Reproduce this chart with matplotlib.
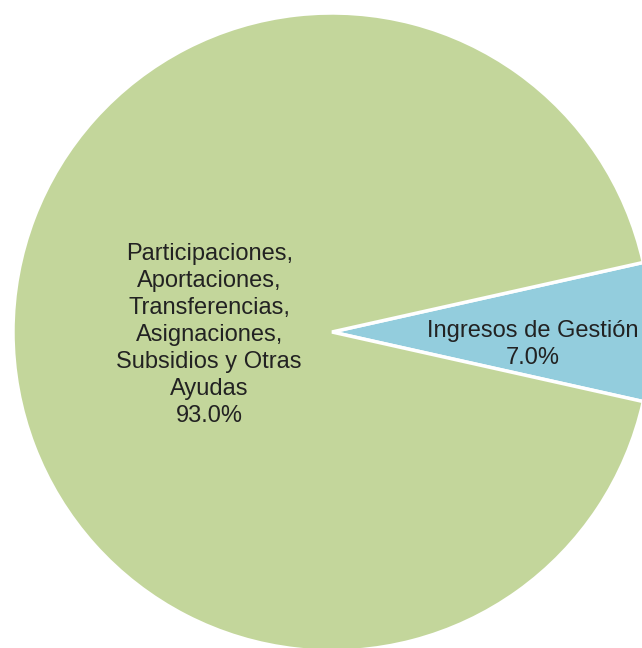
import matplotlib
matplotlib.use("Agg")
import matplotlib.pyplot as plt

# data
labels = ["Ingresos de Gestión",
          "Participaciones,\nAportaciones,\nTransferencias,\nAsignaciones,\nSubsidios y Otras\nAyudas"]
values = [7.0, 93.0]
colors = ["#93CDDD", "#C3D69B"]

# label placement, as fraction of radius (dx, dy) from center
label_pos = [(0.63, -0.04), (-0.385, -0.01)]

W, H = 642, 648
cx, cy, r = 332, H - 332, 319

plt.rcParams['font.family'] = ['Liberation Sans', 'DejaVu Sans']

fig = plt.figure(figsize=(W / 100, H / 100), dpi=100, facecolor='white')
ax = fig.add_axes([0, 0, 1, 1])

half = values[0] / 100 * 360 / 2
wedges, _ = ax.pie(values, colors=colors, startangle=-half, counterclock=True,
                   center=(cx, cy), radius=r, frame=True,
                   wedgeprops=dict(edgecolor='white', linewidth=2.5))
ax.set_xlim(0, W)
ax.set_ylim(0, H)
ax.set_aspect('equal')
ax.axis('off')

total = sum(values)
for lab, v, (dx, dy) in zip(labels, values, label_pos):
    ax.text(cx + dx * r, cy + dy * r, f"{lab}\n{v / total * 100:.1f}%",
            ha='center', va='center', fontsize=17, color='#222222',
            linespacing=1.3)

fig.savefig("out.png", dpi=100, facecolor='white')
